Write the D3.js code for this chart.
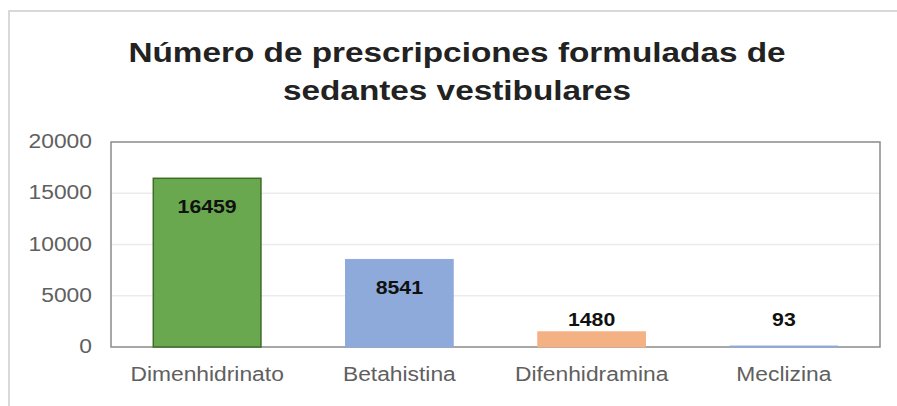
<!DOCTYPE html>
<html>
<head>
<meta charset="utf-8">
<script src="https://cdn.jsdelivr.net/npm/d3@7"></script>
<style>
  body { margin: 0; background: #fff; }
  text { font-family: "Liberation Sans", Arial, sans-serif; }
</style>
</head>
<body>
<div id="chart"></div>
<script>
// Data
const categories = ['Dimenhidrinato', 'Betahistina', 'Difenhidramina', 'Meclizina'];
const values = [16459, 8541, 1480, 93];
const barColors = ['#6aa84f', '#8eaadb', '#f4b183', '#8eaadb'];
const yTicks = [0, 5000, 10000, 15000, 20000];
const titleLines = ['Número de prescripciones formuladas de', 'sedantes vestibulares'];

function draw() {
  const width = 897, height = 406;
  const plot = { left: 111, right: 880, top: 142, bottom: 347 };
  const sx = 1.17; // text in the picture is a bit wider than Arial

  const svg = d3.select('#chart').append('svg')
    .attr('width', width)
    .attr('height', height);

  // outer chart border (only top + left visible)
  svg.append('path')
    .attr('d', `M9,${height} V11 H${width}`)
    .attr('fill', 'none')
    .attr('stroke', '#d9d9d9')
    .attr('stroke-width', 2);

  // scales
  const x = d3.scaleBand()
    .domain(categories)
    .range([plot.left, plot.right])
    .paddingInner(0.44)
    .paddingOuter(0.22);

  const y = d3.scaleLinear()
    .domain([0, 20000])
    .range([plot.bottom, plot.top]);

  // helper: stretched text placed at (px, py)
  const addText = (sel, px, py, s = sx) => sel.attr('transform', `translate(${px},${py}) scale(${s},1)`);

  // title
  svg.append('g').selectAll('text')
    .data(titleLines)
    .join('text')
    .attr('text-anchor', 'middle')
    .attr('font-size', 28)
    .attr('font-weight', 'bold')
    .attr('fill', '#222')
    .each(function (d, i) { addText(d3.select(this), 457, 62 + i * 38, 1.19); })
    .text(d => d);

  // gridlines
  svg.append('g').selectAll('line')
    .data(yTicks.filter(t => t > 0 && t < 20000))
    .join('line')
    .attr('x1', plot.left).attr('x2', plot.right)
    .attr('y1', d => y(d)).attr('y2', d => y(d))
    .attr('stroke', '#ebebeb')
    .attr('stroke-width', 1.5);

  // plot frame
  svg.append('rect')
    .attr('x', plot.left).attr('y', plot.top)
    .attr('width', plot.right - plot.left)
    .attr('height', plot.bottom - plot.top)
    .attr('fill', 'none')
    .attr('stroke', '#8a8a8a')
    .attr('stroke-width', 1.5);

  // y tick labels
  svg.append('g').selectAll('text')
    .data(yTicks)
    .join('text')
    .attr('text-anchor', 'end')
    .attr('font-size', 19.5)
    .attr('fill', '#606060')
    .each(function (d) { addText(d3.select(this), 92, y(d) + 6); })
    .text(d => d);

  // bars
  svg.append('g').selectAll('rect')
    .data(values)
    .join('rect')
    .attr('x', (d, i) => x(categories[i]))
    .attr('width', x.bandwidth())
    .attr('y', d => y(d))
    .attr('height', d => y(0) - y(d))
    .attr('fill', (d, i) => barColors[i])
    .attr('stroke', (d, i) => i === 0 ? '#3d6e27' : barColors[i])
    .attr('stroke-width', (d, i) => i === 0 ? 1.5 : 1);

  // value labels
  svg.append('g').selectAll('text')
    .data(values)
    .join('text')
    .attr('text-anchor', 'middle')
    .attr('font-size', 19)
    .attr('font-weight', 'bold')
    .attr('fill', '#111')
    .each(function (d, i) {
      const cx = x(categories[i]) + x.bandwidth() / 2;
      const ly = Math.min(y(d) + 35, y(0) - 21);
      addText(d3.select(this), cx, ly, 1.12);
    })
    .text(d => d);

  // category labels
  svg.append('g').selectAll('text')
    .data(categories)
    .join('text')
    .attr('text-anchor', 'middle')
    .attr('font-size', 19.5)
    .attr('fill', '#606060')
    .each(function (d) { addText(d3.select(this), x(d) + x.bandwidth() / 2, 381); })
    .text(d => d);
}

draw();
</script>
</body>
</html>
